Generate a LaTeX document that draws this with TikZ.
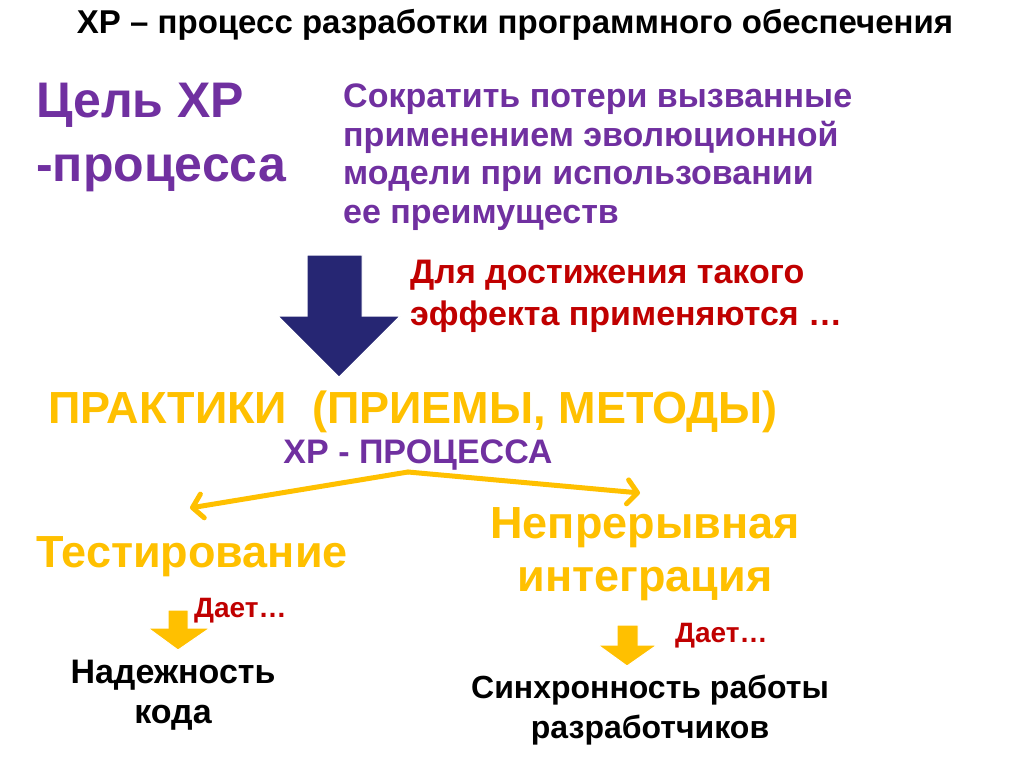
\documentclass[tikz,border=0pt]{standalone}
\usepackage{fontspec}
\setmainfont{Liberation Sans}
\usetikzlibrary{arrows.meta}
\definecolor{purp}{HTML}{7030A0}
\definecolor{ylw}{HTML}{FFC000}
\definecolor{dred}{HTML}{C00000}
\definecolor{navy}{HTML}{262673}
\begin{document}
\begin{tikzpicture}[x=1pt,y=-1pt,
  t/.style={inner sep=0,font=\bfseries},
  ya/.style={draw=ylw,line width=5pt,line cap=round,-{Straight Barb[length=10pt,width=24pt,round]}},
  ]
\useasboundingbox (0,0) rectangle (1024,767);
\node[t,font=\bfseries\fontsize{33}{36}\selectfont] (title) at (515,25) {XP – процесс разработки программного обеспечения};
\node[t,anchor=west,purp,align=left,font=\bfseries\fontsize{50}{64}\selectfont] (goal) at (36,137) {Цель XP\\-процесса};
\node[t,anchor=west,purp,align=left,font=\bfseries\fontsize{34}{38.5}\selectfont] (desc) at (343,157) {Сократить потери вызванные\\применением эволюционной\\модели при использовании\\ее преимуществ};
\fill[navy,draw=white,line width=1pt] (307,255) -- (362,255) -- (362,316) -- (400,316) -- (339,377) -- (278,316) -- (307,316) -- cycle;
\coordinate (bigarrow) at (339,377);
\node[t,anchor=west,dred,align=left,font=\bfseries\fontsize{34}{42}\selectfont] (eff) at (410,296) {Для достижения такого\\эффекта применяются …};
\node[t,ylw,font=\bfseries\fontsize{45}{48}\selectfont] (pr) at (413,412) {ПРАКТИКИ~ (ПРИЕМЫ, МЕТОДЫ)};
\node[t,purp,font=\bfseries\fontsize{34}{36}\selectfont] (xp) at (418,455) {XP - ПРОЦЕССА};
\coordinate (fork) at (408,472);
\draw[ya] (fork) -- (190,508);
\draw[ya] (fork) -- (640,493);
\node[t,ylw,font=\bfseries\fontsize{45}{48}\selectfont] (test) at (192,557) {Тестирование};
\node[t,ylw,align=center,font=\bfseries\fontsize{45}{53}\selectfont] (ci) at (645,554) {Непрерывная\\интеграция};
\fill[ylw,draw=white,line width=1pt] (168,610) -- (188,610) -- (188,628) -- (210,628) -- (178,650) -- (148,628) -- (168,628) -- cycle;
\fill[ylw,draw=white,line width=1pt] (617,625) -- (638,625) -- (638,645) -- (657,645) -- (627,666) -- (598,645) -- (617,645) -- cycle;
\node[t,anchor=west,dred,font=\bfseries\fontsize{28}{30}\selectfont] (d1) at (194,611) {Дает…};
\node[t,anchor=west,dred,font=\bfseries\fontsize{28}{30}\selectfont] (d2) at (675,636) {Дает…};
\node[t,align=center,font=\bfseries\fontsize{34}{40}\selectfont] (rel) at (173,695) {Надежность\\кода};
\node[t,align=center,font=\bfseries\fontsize{32}{40}\selectfont] (sync) at (650,710) {Синхронность работы\\разработчиков};
\end{tikzpicture}
\end{document}
